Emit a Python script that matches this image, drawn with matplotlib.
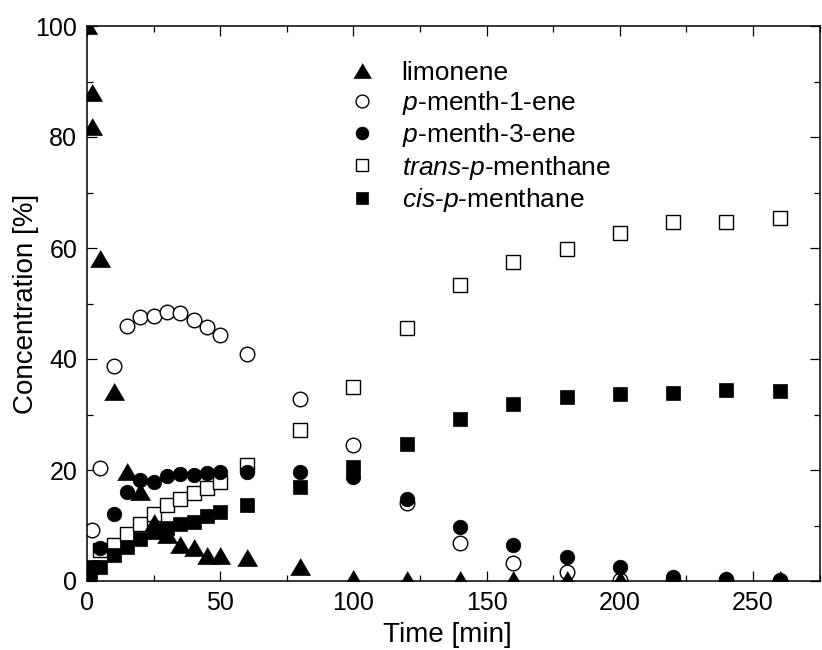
import matplotlib
matplotlib.use("Agg")
import matplotlib.pyplot as plt
from matplotlib.ticker import MultipleLocator

plt.rcParams['font.family'] = ['Liberation Sans', 'DejaVu Sans']
plt.rcParams['mathtext.fontset'] = 'custom'
plt.rcParams['mathtext.rm'] = 'Liberation Sans'
plt.rcParams['mathtext.it'] = 'Liberation Sans:italic'

# ---- data ----
t_lim = [0, 2, 2, 5, 10, 15, 20, 25, 30, 35, 40, 45, 50, 60, 80, 100, 120, 140, 160, 180, 200, 220, 240, 260]
limonene = [100, 88, 81.8, 58, 34, 19.6, 16, 10.4, 8.3, 6.5, 5.9, 4.5, 4.5, 4.1, 2.5, 0.3, 0.2, 0.2, 0.2, 0.2, 0.1, 0.1, 0.1, 0.1]

t_m1 = [2, 5, 10, 15, 20, 25, 30, 35, 40, 45, 50, 60, 80, 100, 120, 140, 160, 180, 200, 220, 240, 260]
menth1ene = [9.2, 20.4, 38.8, 46, 47.5, 47.8, 48.4, 48.2, 47, 45.8, 44.3, 40.9, 32.8, 24.5, 14, 6.8, 3.2, 1.6, 0.2, 0, 0, 0]

t_m3 = [5, 10, 15, 20, 25, 30, 35, 40, 45, 50, 60, 80, 100, 120, 140, 160, 180, 200, 220, 240, 260]
menth3ene = [6, 12, 16.1, 18.2, 17.9, 18.9, 19.2, 19.1, 19.4, 19.7, 19.7, 19.6, 18.8, 14.8, 9.7, 6.5, 4.4, 2.6, 0.8, 0.4, 0.2]

t_trans = [5, 10, 15, 20, 25, 30, 35, 40, 45, 50, 60, 80, 100, 120, 140, 160, 180, 200, 220, 240, 260]
trans_menthane = [5.5, 6.5, 8.5, 10.3, 12.1, 13.7, 14.7, 15.8, 16.8, 17.9, 20.9, 27.2, 35, 45.6, 53.3, 57.5, 59.8, 62.7, 64.7, 64.7, 65.4]

t_cis = [1, 2, 5, 10, 15, 20, 25, 30, 35, 40, 45, 50, 60, 80, 100, 120, 140, 160, 180, 200, 220, 240, 260]
cis_menthane = [0.7, 2.5, 2.6, 4.6, 6.2, 7.5, 8.8, 9.6, 10.2, 10.6, 11.7, 12.4, 13.7, 16.9, 20.6, 24.7, 29.2, 31.9, 33.1, 33.7, 33.9, 34.4, 34.2]

labels = ['limonene', r'$\mathit{p}$-menth-1-ene', r'$\mathit{p}$-menth-3-ene',
          r'$\mathit{trans}$-$\mathit{p}$-menthane', r'$\mathit{cis}$-$\mathit{p}$-menthane']

# ---- figure ----
fig = plt.figure(figsize=(8.22, 6.5), dpi=100)
ax = fig.add_axes([87/822, 1-581/650, (819.6-87)/822, (581-26)/650])

tri = [(-1, -0.8), (1, -0.8), (0, 0.9)]
h_trans, = ax.plot(t_trans, trans_menthane, ls='none', marker='s', ms=10, mfc='white', mec='black', mew=1.0)
h_cis, = ax.plot(t_cis, cis_menthane, ls='none', marker='s', ms=10, mfc='black', mec='black', mew=0.5)
h_m1, = ax.plot(t_m1, menth1ene, ls='none', marker='o', ms=10.5, mfc='white', mec='black', mew=1.0)
h_m3, = ax.plot(t_m3, menth3ene, ls='none', marker='o', ms=10.5, mfc='black', mec='black', mew=0.5)
h_lim, = ax.plot(t_lim, limonene, ls='none', marker=tri, ms=14.4, mfc='black', mec='black', mew=0.5)

ax.set_xlim(0, 275)
ax.set_ylim(0, 100)
ax.xaxis.set_major_locator(MultipleLocator(50))
ax.xaxis.set_minor_locator(MultipleLocator(25))
ax.yaxis.set_major_locator(MultipleLocator(20))
ax.yaxis.set_minor_locator(MultipleLocator(10))
ax.tick_params(which='both', direction='in', top=True, right=True, width=0.9, labelsize=18)
ax.tick_params(which='major', length=7, pad=7)
ax.tick_params(which='minor', length=4)
for s in ax.spines.values():
    s.set_linewidth(1.1)

ax.set_xlabel('Time [min]', fontsize=20)
ax.set_ylabel('Concentration [%]', fontsize=20)
ax.xaxis.set_label_coords((448-87)/733, (581-622)/555)
ax.yaxis.set_label_coords((39-87)/733, 0.5)

leg = ax.legend([h_lim, h_m1, h_m3, h_trans, h_cis], labels, loc='upper left',
                bbox_to_anchor=((349-87)/733, (581-61)/555), frameon=False, fontsize=19,
                handlelength=1.0, handletextpad=1.0, labelspacing=0.16, borderpad=0,
                borderaxespad=0, markerscale=0.88)

fig.savefig('out.png', dpi=100)
